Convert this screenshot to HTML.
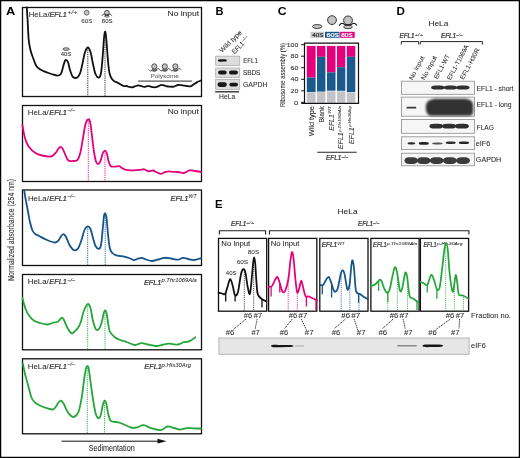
<!DOCTYPE html>
<html><head><meta charset="utf-8"><style>
html,body{margin:0;padding:0;background:#fff;}
svg{display:block;will-change:transform;}
svg text{font-family:"Liberation Sans",sans-serif;}
</style></head><body>
<svg width="520" height="458" viewBox="0 0 520 458">
<defs><filter id="bl" x="-10%" y="-50%" width="120%" height="200%"><feGaussianBlur stdDeviation="0.45"/></filter><filter id="bl2" x="-10%" y="-20%" width="120%" height="140%"><feGaussianBlur stdDeviation="0.8"/></filter></defs>
<rect width="520" height="458" fill="#fff"/>
<rect x="22.5" y="7.5" width="179" height="89.0" fill="none" stroke="#111" stroke-width="1.3"/>
<rect x="22.5" y="105.5" width="179" height="76.0" fill="none" stroke="#111" stroke-width="1.3"/>
<rect x="22.5" y="190.0" width="179" height="75.5" fill="none" stroke="#111" stroke-width="1.3"/>
<rect x="22.5" y="274.5" width="179" height="75.3" fill="none" stroke="#111" stroke-width="1.3"/>
<rect x="22.5" y="358.8" width="179" height="75.0" fill="none" stroke="#111" stroke-width="1.3"/>
<line x1="87.8" y1="49.5" x2="87.8" y2="96.0" stroke="#111" stroke-width="0.9" stroke-dasharray="1.2 1"/>
<line x1="105.0" y1="33.6" x2="105.0" y2="96.0" stroke="#111" stroke-width="0.9" stroke-dasharray="1.2 1"/>
<path d="M26.8,7.5 C26.9,9.6 27.3,14.6 27.6,20.0 C27.9,25.4 28.2,34.9 28.7,40.0 C29.2,45.1 29.9,47.5 30.6,50.5 C31.3,53.5 32.3,55.8 33.1,58.0 C33.9,60.2 34.5,62.1 35.2,63.6 C35.9,65.2 36.2,66.1 37.5,67.3 C38.8,68.5 40.4,69.7 42.7,70.8 C45.0,71.9 49.0,73.2 51.5,74.0 C54.0,74.8 56.1,75.6 57.6,75.6 C59.1,75.6 59.9,75.3 60.8,74.0 C61.7,72.7 62.2,70.0 62.8,68.0 C63.4,66.0 64.0,63.3 64.5,62.0 C65.0,60.7 65.2,60.0 65.8,60.0 C66.4,60.0 67.3,60.3 68.0,62.0 C68.7,63.7 69.2,67.6 70.0,70.0 C70.8,72.4 71.6,75.2 72.5,76.5 C73.4,77.8 74.6,78.0 75.6,78.0 C76.6,78.0 77.5,77.5 78.3,76.5 C79.1,75.5 79.8,74.2 80.5,72.0 C81.2,69.8 81.9,66.2 82.6,63.0 C83.3,59.8 84.0,55.1 84.9,52.5 C85.8,49.9 86.9,47.6 87.8,47.5 C88.7,47.4 89.6,49.2 90.5,52.0 C91.4,54.8 92.2,60.3 93.0,64.0 C93.8,67.7 94.5,71.7 95.5,74.0 C96.5,76.3 97.9,77.8 98.8,77.6 C99.7,77.4 100.3,76.8 101.0,73.0 C101.7,69.2 102.3,60.8 102.8,55.0 C103.3,49.2 103.6,41.9 104.0,38.0 C104.4,34.1 104.7,31.9 105.0,31.6 C105.3,31.3 105.6,32.6 106.0,36.0 C106.4,39.4 106.9,47.0 107.3,52.0 C107.7,57.0 108.1,62.4 108.5,66.0 C108.9,69.6 109.0,71.4 109.6,73.5 C110.1,75.6 110.9,77.4 111.8,78.7 C112.7,80.0 113.8,80.9 114.7,81.6 C115.7,82.2 116.5,82.1 117.5,82.6 C118.5,83.0 119.4,83.7 120.4,84.3 C121.5,84.9 122.8,85.7 123.8,86.0 C124.8,86.3 125.8,85.8 126.7,86.0 C127.6,86.2 128.2,86.7 129.1,86.9 C130.0,87.1 131.1,87.4 132.0,87.3 C132.9,87.2 133.8,86.7 134.8,86.4 C135.8,86.1 137.1,85.3 138.2,85.3 C139.3,85.3 140.6,85.9 141.6,86.2 C142.6,86.5 143.1,86.9 144.0,86.9 C144.9,86.9 146.3,86.3 147.3,86.2 C148.3,86.1 149.2,86.2 150.2,86.4 C151.2,86.6 152.2,87.1 153.1,87.2 C154.0,87.3 154.9,87.4 155.8,87.2 C156.7,87.0 157.7,86.6 158.7,86.2 C159.7,85.8 160.5,84.8 161.6,84.8 C162.7,84.8 164.2,85.6 165.5,85.9 C166.8,86.2 167.9,86.5 169.3,86.6 C170.7,86.7 172.7,86.9 174.1,86.6 C175.5,86.3 176.6,85.2 178.0,85.0 C179.4,84.8 181.4,85.1 182.8,85.3 C184.2,85.5 185.3,85.8 186.6,86.0 C187.9,86.2 189.2,86.7 190.5,86.4 C191.8,86.1 193.2,84.7 194.3,84.0 C195.4,83.3 196.1,82.7 197.2,82.1 C198.3,81.5 200.4,80.8 201.0,80.5" fill="none" stroke="#111" stroke-width="1.8" stroke-linejoin="round" stroke-linecap="round"/>
<line x1="88.3" y1="121.3" x2="88.3" y2="181.0" stroke="#e4007c" stroke-width="0.9" stroke-dasharray="1.2 1"/>
<line x1="105.0" y1="152.7" x2="105.0" y2="181.0" stroke="#e4007c" stroke-width="0.9" stroke-dasharray="1.2 1"/>
<path d="M22.5,125.1 C22.7,126.4 23.2,130.4 23.8,133.0 C24.4,135.6 24.9,138.2 25.8,140.5 C26.7,142.8 27.4,144.9 29.0,147.0 C30.6,149.1 33.2,151.6 35.4,153.0 C37.6,154.4 39.4,154.9 42.0,155.5 C44.6,156.1 48.5,156.9 50.8,156.5 C53.0,156.1 54.2,154.3 55.5,153.0 C56.8,151.7 57.7,149.5 58.5,148.5 C59.3,147.5 59.7,146.8 60.4,146.8 C61.1,146.8 61.7,147.3 62.5,148.5 C63.3,149.7 64.2,152.2 65.0,154.0 C65.8,155.8 66.7,158.3 67.5,159.5 C68.3,160.7 68.9,160.8 70.0,161.1 C71.1,161.3 72.7,161.2 74.0,161.0 C75.3,160.8 76.6,161.2 77.7,159.7 C78.8,158.2 79.6,155.6 80.5,152.0 C81.4,148.4 82.2,142.7 83.0,138.0 C83.8,133.3 84.6,127.1 85.5,124.0 C86.4,120.9 87.5,119.5 88.3,119.3 C89.1,119.1 89.7,120.2 90.3,123.0 C90.9,125.8 91.4,131.2 92.0,136.0 C92.6,140.8 93.3,147.8 94.0,152.0 C94.7,156.2 95.3,159.5 96.0,161.5 C96.7,163.5 97.2,164.3 97.9,164.2 C98.7,164.1 99.7,162.7 100.5,161.0 C101.3,159.3 101.8,155.7 102.5,154.0 C103.2,152.3 104.2,150.7 105.0,150.7 C105.8,150.7 106.4,152.3 107.0,154.0 C107.6,155.7 107.9,159.0 108.5,161.0 C109.1,163.0 109.7,165.3 110.8,166.2 C111.9,167.1 113.6,166.6 115.0,166.6 C116.4,166.6 118.2,165.9 119.4,166.1 C120.6,166.3 120.9,167.4 122.0,168.0 C123.1,168.6 124.2,169.5 126.2,169.9 C128.2,170.3 131.5,170.3 133.8,170.3 C136.1,170.3 138.2,170.0 140.0,169.8 C141.8,169.6 143.0,169.1 144.4,169.3 C145.8,169.6 146.9,171.1 148.3,171.3 C149.8,171.5 151.8,170.4 153.1,170.5 C154.4,170.6 154.7,171.4 156.0,172.0 C157.3,172.6 159.5,173.7 160.8,173.8 C162.1,173.9 162.7,172.9 164.0,172.5 C165.3,172.1 167.0,171.4 168.5,171.3 C170.0,171.2 171.4,171.7 173.0,171.8 C174.6,171.9 176.2,171.8 178.0,172.0 C179.8,172.2 181.9,173.3 183.8,173.0 C185.7,172.7 187.7,170.6 189.6,170.3 C191.5,170.0 193.1,170.8 195.0,171.0 C196.9,171.2 200.2,171.7 201.2,171.8" fill="none" stroke="#e4007c" stroke-width="1.8" stroke-linejoin="round" stroke-linecap="round"/>
<line x1="87.7" y1="228.4" x2="87.7" y2="265.0" stroke="#15548a" stroke-width="0.9" stroke-dasharray="1.2 1"/>
<line x1="105.2" y1="215.5" x2="105.2" y2="265.0" stroke="#15548a" stroke-width="0.9" stroke-dasharray="1.2 1"/>
<path d="M24.2,190.5 C24.5,192.1 25.2,196.8 25.8,200.0 C26.4,203.2 27.0,206.3 27.7,210.0 C28.4,213.7 29.2,218.6 30.0,222.0 C30.8,225.4 31.6,228.5 32.5,230.5 C33.4,232.5 34.4,233.3 35.5,234.2 C36.6,235.1 37.5,235.1 39.2,236.0 C41.0,236.9 43.4,238.4 46.0,239.5 C48.6,240.6 52.5,242.3 54.6,242.5 C56.7,242.7 57.4,241.6 58.5,240.5 C59.6,239.4 60.3,237.1 61.2,236.0 C62.1,234.9 62.9,233.8 63.8,234.1 C64.6,234.3 65.3,235.7 66.3,237.5 C67.2,239.3 68.2,242.9 69.5,245.0 C70.8,247.1 72.4,249.5 73.8,250.1 C75.2,250.7 76.7,250.2 78.0,248.5 C79.3,246.8 80.4,243.1 81.5,240.0 C82.6,236.9 83.5,232.3 84.5,230.0 C85.5,227.7 86.7,226.6 87.7,226.4 C88.7,226.2 89.6,227.1 90.5,229.0 C91.4,230.9 92.2,235.2 93.0,238.0 C93.8,240.8 94.5,244.2 95.5,246.0 C96.5,247.8 97.9,249.1 98.8,248.9 C99.7,248.7 100.3,248.5 101.0,245.0 C101.7,241.5 102.3,232.8 102.8,228.0 C103.3,223.2 103.6,218.4 104.0,216.0 C104.4,213.6 104.8,213.2 105.2,213.5 C105.6,213.8 106.0,214.6 106.5,218.0 C107.0,221.4 107.5,229.0 108.0,234.0 C108.5,239.0 109.1,244.8 109.8,248.0 C110.5,251.2 111.2,251.8 112.3,253.0 C113.4,254.2 114.5,254.7 116.5,255.3 C118.5,255.9 122.1,256.2 124.2,256.6 C126.3,257.1 127.4,257.4 129.0,258.0 C130.6,258.6 132.5,259.9 133.8,260.1 C135.1,260.3 135.7,259.4 137.0,259.0 C138.3,258.6 140.0,257.7 141.5,257.8 C143.0,257.9 144.2,259.0 146.0,259.5 C147.8,260.0 150.1,261.0 152.1,261.0 C154.1,261.0 155.9,260.0 158.0,259.5 C160.1,259.0 162.4,258.0 164.6,257.8 C166.8,257.6 168.8,258.2 171.0,258.5 C173.2,258.8 176.0,259.8 178.0,259.7 C180.0,259.6 181.2,257.9 182.9,257.8 C184.6,257.7 186.2,258.6 188.0,259.0 C189.8,259.4 191.8,260.1 193.5,260.1 C195.2,260.1 196.8,259.3 198.0,259.0 C199.2,258.7 200.5,258.3 201.0,258.2" fill="none" stroke="#15548a" stroke-width="1.8" stroke-linejoin="round" stroke-linecap="round"/>
<line x1="87.7" y1="306.1" x2="87.7" y2="349.5" stroke="#25a63a" stroke-width="0.9" stroke-dasharray="1.2 1"/>
<line x1="105.0" y1="312.4" x2="105.0" y2="349.5" stroke="#25a63a" stroke-width="0.9" stroke-dasharray="1.2 1"/>
<path d="M22.5,297.9 C22.8,298.9 23.4,302.1 24.0,304.0 C24.6,305.9 25.0,307.6 25.8,309.5 C26.6,311.4 27.7,313.7 29.0,315.5 C30.3,317.3 31.7,319.1 33.5,320.3 C35.3,321.6 37.8,322.3 40.0,323.0 C42.2,323.7 45.1,324.4 46.9,324.5 C48.7,324.6 49.9,323.8 51.0,323.5 C52.1,323.2 52.6,322.8 53.7,322.5 C54.8,322.2 56.5,322.5 57.5,322.0 C58.5,321.5 59.3,320.2 60.0,319.5 C60.7,318.8 61.2,317.6 61.9,317.7 C62.6,317.8 63.1,318.4 64.0,320.0 C64.8,321.6 65.8,324.8 67.0,327.0 C68.2,329.2 70.2,332.6 71.5,333.3 C72.8,334.1 73.5,332.3 74.5,331.5 C75.5,330.7 76.7,329.9 77.7,328.3 C78.8,326.7 79.8,324.9 80.8,322.0 C81.8,319.1 82.6,314.0 83.8,311.0 C85.0,308.0 86.6,304.6 87.7,304.1 C88.8,303.6 89.7,305.4 90.5,308.0 C91.3,310.6 91.9,316.4 92.8,320.0 C93.7,323.6 94.9,328.1 96.0,329.5 C97.1,330.9 98.2,329.8 99.2,328.5 C100.2,327.2 101.1,324.4 101.8,322.0 C102.5,319.6 103.0,315.9 103.5,314.0 C104.0,312.1 104.5,310.6 105.0,310.4 C105.5,310.2 106.0,311.1 106.5,313.0 C107.0,314.9 107.5,318.9 108.0,322.0 C108.5,325.1 108.7,329.0 109.8,331.5 C110.9,334.0 113.1,335.7 114.6,337.0 C116.1,338.3 117.4,338.8 119.0,339.5 C120.6,340.2 122.5,340.6 124.2,341.2 C125.9,341.8 127.2,342.4 129.0,343.0 C130.8,343.6 132.7,345.0 134.8,345.0 C136.9,345.0 139.3,343.2 141.5,343.1 C143.7,343.0 145.6,344.0 148.0,344.5 C150.4,345.0 153.7,345.9 156.0,346.0 C158.3,346.1 159.9,345.4 162.0,345.0 C164.1,344.6 166.7,343.8 168.5,343.7 C170.3,343.6 171.4,344.1 173.0,344.2 C174.6,344.3 176.2,344.8 178.0,344.5 C179.8,344.2 181.9,342.8 183.8,342.2 C185.7,341.6 187.7,342.0 189.6,341.2 C191.5,340.4 194.4,337.9 195.4,337.3" fill="none" stroke="#25a63a" stroke-width="1.8" stroke-linejoin="round" stroke-linecap="round"/>
<line x1="87.3" y1="368.0" x2="87.3" y2="433.5" stroke="#25a63a" stroke-width="0.9" stroke-dasharray="1.2 1"/>
<line x1="104.6" y1="402.6" x2="104.6" y2="433.5" stroke="#25a63a" stroke-width="0.9" stroke-dasharray="1.2 1"/>
<path d="M22.9,363.7 C23.2,365.4 24.2,370.6 25.0,374.0 C25.8,377.4 26.6,379.9 27.7,383.8 C28.8,387.7 30.3,394.4 31.5,397.5 C32.7,400.6 33.7,401.2 35.0,402.5 C36.3,403.8 37.4,404.3 39.2,405.2 C41.0,406.1 43.8,407.1 46.0,407.8 C48.2,408.5 51.0,409.7 52.7,409.5 C54.4,409.3 55.0,407.7 56.0,406.5 C57.0,405.3 57.7,403.5 58.5,402.5 C59.3,401.5 60.1,400.4 61.0,400.6 C61.9,400.9 62.8,402.4 63.8,404.0 C64.8,405.6 65.7,408.6 66.8,410.5 C67.9,412.4 69.3,414.4 70.5,415.5 C71.7,416.6 72.9,417.5 74.2,416.9 C75.5,416.3 77.2,415.3 78.5,412.0 C79.8,408.7 80.8,402.7 81.8,397.0 C82.8,391.3 83.6,382.8 84.3,378.0 C85.0,373.2 85.7,370.0 86.2,368.0 C86.7,366.0 86.9,366.0 87.3,366.0 C87.7,366.0 88.1,365.7 88.6,368.0 C89.1,370.3 89.6,375.0 90.3,380.0 C91.0,385.0 91.9,392.3 92.8,398.0 C93.7,403.7 94.8,410.6 95.8,414.0 C96.8,417.4 97.9,418.3 98.8,418.3 C99.7,418.3 100.3,416.2 101.0,414.0 C101.7,411.8 102.2,407.2 102.8,405.0 C103.4,402.8 104.0,400.8 104.6,400.6 C105.2,400.4 105.8,401.9 106.4,404.0 C107.0,406.1 107.3,410.2 108.0,413.0 C108.7,415.8 109.4,419.0 110.4,420.5 C111.4,422.0 112.7,421.5 114.0,421.8 C115.3,422.1 116.8,421.9 118.5,422.3 C120.2,422.8 121.9,423.6 124.0,424.5 C126.1,425.4 128.9,427.0 131.0,427.5 C133.1,428.0 134.6,427.9 136.7,427.5 C138.8,427.1 141.1,425.1 143.5,425.2 C145.9,425.3 148.3,427.3 151.2,428.1 C154.1,428.9 158.1,430.3 160.8,430.0 C163.5,429.7 165.3,426.8 167.5,426.5 C169.7,426.2 171.9,427.5 174.0,428.0 C176.1,428.5 177.9,429.6 180.0,429.6 C182.1,429.6 184.5,428.3 186.7,428.1 C188.9,427.9 190.6,428.2 193.0,428.3 C195.4,428.4 199.7,428.5 201.0,428.5" fill="none" stroke="#25a63a" stroke-width="1.8" stroke-linejoin="round" stroke-linecap="round"/>
<text x="6.00" y="14.80" font-size="11" font-weight="bold" fill="#000" textLength="9.20" lengthAdjust="spacingAndGlyphs">A</text>
<text x="215.50" y="14.80" font-size="11" font-weight="bold" fill="#000" textLength="8.00" lengthAdjust="spacingAndGlyphs">B</text>
<text x="277.80" y="14.80" font-size="11" font-weight="bold" fill="#000" textLength="8.80" lengthAdjust="spacingAndGlyphs">C</text>
<text x="396.40" y="14.80" font-size="11" font-weight="bold" fill="#000" textLength="8.40" lengthAdjust="spacingAndGlyphs">D</text>
<text x="215.00" y="207.60" font-size="11" font-weight="bold" fill="#000" textLength="7.50" lengthAdjust="spacingAndGlyphs">E</text>
<text x="28.74" y="17.10" font-size="7.70" fill="#2a2a2a" stroke="#2a2a2a" stroke-width="0.06" textLength="20.82" lengthAdjust="spacingAndGlyphs">HeLa/</text>
<text x="49.52" y="17.10" font-size="8.00" fill="#2a2a2a" stroke="#2a2a2a" stroke-width="0.21" textLength="17.36" lengthAdjust="spacingAndGlyphs" font-style="italic">EFL1</text>
<text x="67.51" y="14.20" font-size="4.80" fill="#2a2a2a" stroke="#2a2a2a" stroke-width="0.04" textLength="9.68" lengthAdjust="spacingAndGlyphs" font-style="italic">+/+</text>
<text x="27.84" y="114.60" font-size="7.70" fill="#2a2a2a" stroke="#2a2a2a" stroke-width="0.06" textLength="20.92" lengthAdjust="spacingAndGlyphs">HeLa/</text>
<text x="49.22" y="114.60" font-size="8.00" fill="#2a2a2a" stroke="#2a2a2a" stroke-width="0.21" textLength="17.66" lengthAdjust="spacingAndGlyphs" font-style="italic">EFL1</text>
<text x="67.51" y="111.70" font-size="4.80" fill="#2a2a2a" stroke="#2a2a2a" stroke-width="0.04" textLength="7.58" lengthAdjust="spacingAndGlyphs" font-style="italic">&#8211;/&#8211;</text>
<text x="27.94" y="200.70" font-size="7.70" fill="#2a2a2a" stroke="#2a2a2a" stroke-width="0.06" textLength="20.92" lengthAdjust="spacingAndGlyphs">HeLa/</text>
<text x="49.32" y="200.70" font-size="8.00" fill="#2a2a2a" stroke="#2a2a2a" stroke-width="0.21" textLength="17.56" lengthAdjust="spacingAndGlyphs" font-style="italic">EFL1</text>
<text x="67.51" y="197.80" font-size="4.80" fill="#2a2a2a" stroke="#2a2a2a" stroke-width="0.04" textLength="7.58" lengthAdjust="spacingAndGlyphs" font-style="italic">&#8211;/&#8211;</text>
<text x="27.84" y="284.40" font-size="7.70" fill="#2a2a2a" stroke="#2a2a2a" stroke-width="0.06" textLength="20.92" lengthAdjust="spacingAndGlyphs">HeLa/</text>
<text x="49.22" y="284.40" font-size="8.00" fill="#2a2a2a" stroke="#2a2a2a" stroke-width="0.21" textLength="17.66" lengthAdjust="spacingAndGlyphs" font-style="italic">EFL1</text>
<text x="67.51" y="281.50" font-size="4.80" fill="#2a2a2a" stroke="#2a2a2a" stroke-width="0.04" textLength="7.58" lengthAdjust="spacingAndGlyphs" font-style="italic">&#8211;/&#8211;</text>
<text x="27.84" y="369.00" font-size="7.70" fill="#2a2a2a" stroke="#2a2a2a" stroke-width="0.06" textLength="20.92" lengthAdjust="spacingAndGlyphs">HeLa/</text>
<text x="49.22" y="369.00" font-size="8.00" fill="#2a2a2a" stroke="#2a2a2a" stroke-width="0.21" textLength="17.66" lengthAdjust="spacingAndGlyphs" font-style="italic">EFL1</text>
<text x="67.51" y="366.10" font-size="4.80" fill="#2a2a2a" stroke="#2a2a2a" stroke-width="0.04" textLength="7.58" lengthAdjust="spacingAndGlyphs" font-style="italic">&#8211;/&#8211;</text>
<text x="167.57" y="15.90" font-size="7.20" fill="#2a2a2a" stroke="#2a2a2a" stroke-width="0.06" textLength="31.56" lengthAdjust="spacingAndGlyphs">No input</text>
<text x="167.77" y="113.90" font-size="7.20" fill="#2a2a2a" stroke="#2a2a2a" stroke-width="0.06" textLength="31.06" lengthAdjust="spacingAndGlyphs">No input</text>
<text x="170.43" y="201.10" font-size="7.80" fill="#2a2a2a" stroke="#2a2a2a" stroke-width="0.21" textLength="18.14" lengthAdjust="spacingAndGlyphs" font-style="italic">EFL1</text>
<text x="188.61" y="197.60" font-size="4.80" fill="#2a2a2a" stroke="#2a2a2a" stroke-width="0.04" textLength="7.88" lengthAdjust="spacingAndGlyphs" font-style="italic">WT</text>
<text x="143.93" y="284.70" font-size="7.80" fill="#2a2a2a" stroke="#2a2a2a" stroke-width="0.21" textLength="17.34" lengthAdjust="spacingAndGlyphs" font-style="italic">EFL1</text>
<text x="161.41" y="282.00" font-size="4.80" fill="#2a2a2a" stroke="#2a2a2a" stroke-width="0.04" textLength="35.38" lengthAdjust="spacingAndGlyphs" font-style="italic">p.Thr1069Ala</text>
<text x="144.33" y="369.20" font-size="7.80" fill="#2a2a2a" stroke="#2a2a2a" stroke-width="0.21" textLength="17.44" lengthAdjust="spacingAndGlyphs" font-style="italic">EFL1</text>
<text x="161.61" y="366.50" font-size="4.80" fill="#2a2a2a" stroke="#2a2a2a" stroke-width="0.04" textLength="29.38" lengthAdjust="spacingAndGlyphs" font-style="italic">p.His30Arg</text>
<ellipse cx="66.1" cy="49.1" rx="3.2" ry="1.3" fill="#c4c4c4" stroke="#333" stroke-width="0.8"/>
<text x="60.73" y="56.40" font-size="6.10" fill="#333" stroke="#333" stroke-width="0.05" textLength="10.63" lengthAdjust="spacingAndGlyphs">40S</text>
<circle cx="86.7" cy="12.7" r="2.4" fill="#c4c4c4" stroke="#333" stroke-width="0.7"/>
<text x="81.16" y="23.20" font-size="5.60" fill="#333" stroke="#333" stroke-width="0.05" textLength="11.17" lengthAdjust="spacingAndGlyphs">60S</text>
<ellipse cx="106.90" cy="16.25" rx="2.35" ry="0.98" fill="#c4c4c4" stroke="#333" stroke-width="0.6"/><circle cx="106.9" cy="12.7" r="2.4" fill="#c4c4c4" stroke="#333" stroke-width="0.8"/><path d="M102.10,15.65 C102.65,14.45 103.63,13.90 104.50,14.55 C105.37,15.43 108.43,15.43 109.30,14.55 C110.17,13.90 111.15,14.45 111.70,15.54" fill="none" stroke="#111" stroke-width="0.8"/>
<text x="101.86" y="23.20" font-size="5.60" fill="#333" stroke="#333" stroke-width="0.05" textLength="10.77" lengthAdjust="spacingAndGlyphs">80S</text>
<ellipse cx="154.3" cy="70.1" rx="2.6" ry="1.1" fill="#c4c4c4" stroke="#333" stroke-width="0.7"/>
<circle cx="154.3" cy="66.4" r="2.6" fill="#c4c4c4" stroke="#333" stroke-width="0.8"/>
<ellipse cx="164.8" cy="70.1" rx="2.6" ry="1.1" fill="#c4c4c4" stroke="#333" stroke-width="0.7"/>
<circle cx="164.8" cy="66.4" r="2.6" fill="#c4c4c4" stroke="#333" stroke-width="0.8"/>
<ellipse cx="175.4" cy="70.1" rx="2.6" ry="1.1" fill="#c4c4c4" stroke="#333" stroke-width="0.7"/>
<circle cx="175.4" cy="66.4" r="2.6" fill="#c4c4c4" stroke="#333" stroke-width="0.8"/>
<path d="M148.6,69.6 C150,71.5 151.5,71.2 152.5,69.8 C153.5,71.3 155.5,71.3 156.3,69.8 C157.5,68 159,68.2 159.6,69.6 C160.5,71.3 162,71.3 163,69.8 C164,71.3 166,71.3 166.8,69.8 C168,68 169.5,68.2 170.1,69.6 C171,71.3 172.5,71.3 173.5,69.8 C174.5,71.3 176.5,71.3 177.3,69.8 C178.5,68 180,68.5 181.3,69.8" fill="none" stroke="#222" stroke-width="0.75"/>
<line x1="138.2" y1="81.1" x2="191.9" y2="81.1" stroke="#555" stroke-width="1.1"/>
<text x="150.45" y="78.30" font-size="5.80" fill="#666" stroke="#666" stroke-width="0.05" textLength="28.30" lengthAdjust="spacingAndGlyphs">Polysome</text>
<text transform="translate(14.00,280.90) rotate(-90.0)" font-size="8.40" fill="#2a2a2a" stroke="#2a2a2a" stroke-width="0.06" text-anchor="start" textLength="101.90" lengthAdjust="spacingAndGlyphs">Normalized absorbance (254 nm)</text>
<line x1="61.5" y1="441.2" x2="160" y2="441.2" stroke="#111" stroke-width="1"/>
<path d="M157.5,438.8 L166.5,441.2 L157.5,443.6 Z" fill="#111"/>
<text x="88.70" y="450.90" font-size="8.40" fill="#2a2a2a" stroke="#2a2a2a" stroke-width="0.06" textLength="46.01" lengthAdjust="spacingAndGlyphs">Sedimentation</text>
<rect x="215.7" y="56.1" width="24.1" height="9.5" fill="#dcdcdc" stroke="#9a9a9a" stroke-width="0.6"/>
<rect x="215.7" y="68.0" width="24.1" height="9.5" fill="#dcdcdc" stroke="#9a9a9a" stroke-width="0.6"/>
<rect x="215.7" y="79.3" width="24.1" height="10.1" fill="#dcdcdc" stroke="#9a9a9a" stroke-width="0.6"/>
<g filter="url(#bl)">
<ellipse cx="220.6" cy="60.4" rx="2.8" ry="1.25" fill="#111"/><ellipse cx="224.2" cy="60.4" rx="2.7" ry="1.2" fill="#111"/>
<rect x="218.1" y="70.4" width="8.5" height="4.0" rx="2.0" fill="#151515"/>
<rect x="229.0" y="70.4" width="8.9" height="4.0" rx="2.0" fill="#151515"/>
<rect x="217.5" y="82.2" width="9.3" height="4.8" rx="2.4" fill="#151515"/>
<rect x="229.4" y="82.7" width="8.6" height="3.8" rx="1.9" fill="#151515"/>
</g>
<line x1="215.2" y1="91.8" x2="239.1" y2="91.8" stroke="#222" stroke-width="1.3"/>
<text x="219.00" y="99.40" font-size="6.70" fill="#2a2a2a" stroke="#2a2a2a" stroke-width="0.06" textLength="16.20" lengthAdjust="spacingAndGlyphs">HeLa</text>
<text x="243.32" y="63.30" font-size="6.30" fill="#2a2a2a" stroke="#2a2a2a" stroke-width="0.06" textLength="14.46" lengthAdjust="spacingAndGlyphs">EFL1</text>
<text x="243.00" y="74.50" font-size="6.60" fill="#2a2a2a" stroke="#2a2a2a" stroke-width="0.06" textLength="17.39" lengthAdjust="spacingAndGlyphs">SBDS</text>
<text x="243.00" y="86.90" font-size="6.60" fill="#2a2a2a" stroke="#2a2a2a" stroke-width="0.06" textLength="24.49" lengthAdjust="spacingAndGlyphs">GAPDH</text>
<text transform="translate(222.00,52.90) rotate(-44.0)" font-size="6.60" fill="#2a2a2a" stroke="#2a2a2a" stroke-width="0.06" text-anchor="start" textLength="28.30" lengthAdjust="spacingAndGlyphs">Wild type</text>
<text transform="translate(234.60,54.30) rotate(-45.0)" font-size="6.60" fill="#2a2a2a" stroke="#2a2a2a" stroke-width="0.06" text-anchor="start" textLength="14.20" lengthAdjust="spacingAndGlyphs">EFL1</text>
<text transform="translate(243.00,42.30) rotate(-45.0)" font-size="4.40" fill="#2a2a2a" stroke="#2a2a2a" stroke-width="0.04" text-anchor="start" textLength="7.00" lengthAdjust="spacingAndGlyphs">&#8211;/&#8211;</text>
<ellipse cx="317.2" cy="26.5" rx="4.7" ry="2.0" fill="#c4c4c4" stroke="#333" stroke-width="0.9"/>
<circle cx="332.0" cy="20.1" r="4.4" fill="#c4c4c4" stroke="#333" stroke-width="1.0"/>
<ellipse cx="348" cy="26.9" rx="4.3" ry="1.8" fill="#c4c4c4" stroke="#333" stroke-width="0.9"/>
<circle cx="348.0" cy="20.4" r="4.4" fill="#c4c4c4" stroke="#333" stroke-width="1.0"/>
<path d="M339.2,25.8 C340.2,23.6 342,22.6 343.6,23.8 C345.2,25.4 350.8,25.4 352.4,23.8 C354,22.6 355.8,23.6 356.8,25.6" fill="none" stroke="#111" stroke-width="1.1"/>
<rect x="310.4" y="31.8" width="13.6" height="6" fill="#c9c9cc"/>
<rect x="325" y="31.8" width="14.6" height="6" fill="#1a5a8e"/>
<rect x="340.1" y="31.8" width="14.6" height="6" fill="#e4007c"/>
<text x="312.38" y="36.90" font-size="5.40" fill="#333" stroke="#333" stroke-width="0.05" textLength="11.05" lengthAdjust="spacingAndGlyphs" style="stroke-width:0.22px">40S</text>
<text x="326.58" y="36.90" font-size="5.40" fill="#fff" stroke="#fff" stroke-width="0.05" textLength="12.45" lengthAdjust="spacingAndGlyphs" style="stroke-width:0.22px">60S</text>
<text x="341.18" y="36.90" font-size="5.40" fill="#fff" stroke="#fff" stroke-width="0.05" textLength="11.45" lengthAdjust="spacingAndGlyphs" style="stroke-width:0.22px">80S</text>
<rect x="306.8" y="45.9" width="8.8" height="31.6" fill="#e4007c"/>
<rect x="306.8" y="77.5" width="8.8" height="14.7" fill="#1a5a8e"/>
<rect x="306.8" y="92.7" width="8.8" height="10.0" fill="#c4c4c8"/>
<rect x="317.0" y="45.9" width="8.4" height="10.9" fill="#e4007c"/>
<rect x="317.0" y="56.8" width="8.4" height="34.8" fill="#1a5a8e"/>
<rect x="317.0" y="92.1" width="8.4" height="10.6" fill="#c4c4c8"/>
<rect x="327.0" y="45.9" width="8.5" height="26.4" fill="#e4007c"/>
<rect x="327.0" y="72.3" width="8.5" height="18.4" fill="#1a5a8e"/>
<rect x="327.0" y="91.3" width="8.5" height="11.4" fill="#c4c4c8"/>
<rect x="337.0" y="45.9" width="8.3" height="21.3" fill="#e4007c"/>
<rect x="337.0" y="67.2" width="8.3" height="23.6" fill="#1a5a8e"/>
<rect x="337.0" y="91.3" width="8.3" height="11.4" fill="#c4c4c8"/>
<rect x="346.8" y="45.9" width="8.5" height="10.9" fill="#e4007c"/>
<rect x="346.8" y="56.8" width="8.5" height="35.4" fill="#1a5a8e"/>
<rect x="346.8" y="92.7" width="8.5" height="10.0" fill="#c4c4c8"/>
<path d="M304.5,103.3 V43.1 H358.5 V103.3 H301.2" fill="none" stroke="#111" stroke-width="1.2"/>
<line x1="301.1" y1="44.7" x2="304.5" y2="44.7" stroke="#111" stroke-width="1"/>
<text x="286.73" y="46.90" font-size="6.20" fill="#2a2a2a" stroke="#2a2a2a" stroke-width="0.06" textLength="11.64" lengthAdjust="spacingAndGlyphs">100</text>
<line x1="301.1" y1="56.2" x2="304.5" y2="56.2" stroke="#111" stroke-width="1"/>
<text x="290.43" y="58.42" font-size="6.20" fill="#2a2a2a" stroke="#2a2a2a" stroke-width="0.06" textLength="7.94" lengthAdjust="spacingAndGlyphs">80</text>
<line x1="301.1" y1="67.7" x2="304.5" y2="67.7" stroke="#111" stroke-width="1"/>
<text x="290.43" y="69.94" font-size="6.20" fill="#2a2a2a" stroke="#2a2a2a" stroke-width="0.06" textLength="7.94" lengthAdjust="spacingAndGlyphs">60</text>
<line x1="301.1" y1="79.3" x2="304.5" y2="79.3" stroke="#111" stroke-width="1"/>
<text x="290.43" y="81.46" font-size="6.20" fill="#2a2a2a" stroke="#2a2a2a" stroke-width="0.06" textLength="7.94" lengthAdjust="spacingAndGlyphs">40</text>
<line x1="301.1" y1="90.8" x2="304.5" y2="90.8" stroke="#111" stroke-width="1"/>
<text x="290.43" y="92.98" font-size="6.20" fill="#2a2a2a" stroke="#2a2a2a" stroke-width="0.06" textLength="7.94" lengthAdjust="spacingAndGlyphs">20</text>
<line x1="301.1" y1="102.3" x2="304.5" y2="102.3" stroke="#111" stroke-width="1"/>
<text x="294.13" y="104.50" font-size="6.20" fill="#2a2a2a" stroke="#2a2a2a" stroke-width="0.06" textLength="4.24" lengthAdjust="spacingAndGlyphs">0</text>
<text transform="translate(284.60,107.00) rotate(-90.0)" font-size="7.30" fill="#2a2a2a" stroke="#2a2a2a" stroke-width="0.06" text-anchor="start" textLength="64.00" lengthAdjust="spacingAndGlyphs">Ribosome assembly (%)</text>
<text transform="translate(313.80,106.20) rotate(-90.0)" font-size="6.60" fill="#2a2a2a" stroke="#2a2a2a" stroke-width="0.06" text-anchor="end" textLength="30.00" lengthAdjust="spacingAndGlyphs">Wild type</text>
<text transform="translate(323.60,106.20) rotate(-90.0)" font-size="6.60" fill="#2a2a2a" stroke="#2a2a2a" stroke-width="0.06" text-anchor="end" textLength="16.00" lengthAdjust="spacingAndGlyphs">Blank</text>
<text transform="translate(333.50,114.20) rotate(-90.0)" font-size="6.60" fill="#2a2a2a" stroke="#2a2a2a" stroke-width="0.06" text-anchor="end" textLength="16.50" lengthAdjust="spacingAndGlyphs" font-style="italic">EFL1</text>
<text transform="translate(331.10,106.20) rotate(-90.0)" font-size="4.20" fill="#2a2a2a" stroke="#2a2a2a" stroke-width="0.04" text-anchor="end" textLength="7.50" lengthAdjust="spacingAndGlyphs" font-style="italic">WT</text>
<text transform="translate(343.10,132.20) rotate(-90.0)" font-size="6.60" fill="#2a2a2a" stroke="#2a2a2a" stroke-width="0.06" text-anchor="end" textLength="17.00" lengthAdjust="spacingAndGlyphs" font-style="italic">EFL1</text>
<text transform="translate(340.70,106.20) rotate(-90.0)" font-size="4.20" fill="#2a2a2a" stroke="#2a2a2a" stroke-width="0.04" text-anchor="end" textLength="25.50" lengthAdjust="spacingAndGlyphs" font-style="italic">p.Thr1069Ala</text>
<text transform="translate(353.80,127.20) rotate(-90.0)" font-size="6.60" fill="#2a2a2a" stroke="#2a2a2a" stroke-width="0.06" text-anchor="end" textLength="17.00" lengthAdjust="spacingAndGlyphs" font-style="italic">EFL1</text>
<text transform="translate(351.40,106.20) rotate(-90.0)" font-size="4.20" fill="#2a2a2a" stroke="#2a2a2a" stroke-width="0.04" text-anchor="end" textLength="20.50" lengthAdjust="spacingAndGlyphs" font-style="italic">p.His36Arg</text>
<line x1="317.2" y1="152.2" x2="356.7" y2="152.2" stroke="#222" stroke-width="1.1"/>
<text x="326.00" y="160.40" font-size="6.70" fill="#2a2a2a" stroke="#2a2a2a" stroke-width="0.21" textLength="15.20" lengthAdjust="spacingAndGlyphs" font-style="italic">EFL1</text>
<text x="341.55" y="158.30" font-size="4.20" fill="#2a2a2a" stroke="#2a2a2a" stroke-width="0.04" textLength="6.80" lengthAdjust="spacingAndGlyphs" font-style="italic">&#8211;/&#8211;</text>
<text x="428.44" y="26.20" font-size="7.70" fill="#2a2a2a" stroke="#2a2a2a" stroke-width="0.06" textLength="19.92" lengthAdjust="spacingAndGlyphs">HeLa</text>
<text x="399.40" y="38.10" font-size="6.60" fill="#2a2a2a" stroke="#2a2a2a" stroke-width="0.21" textLength="15.19" lengthAdjust="spacingAndGlyphs" font-style="italic">EFL1</text>
<text x="414.54" y="35.60" font-size="4.30" fill="#2a2a2a" stroke="#2a2a2a" stroke-width="0.04" textLength="8.52" lengthAdjust="spacingAndGlyphs" font-style="italic">+/+</text>
<text x="440.90" y="38.10" font-size="6.60" fill="#2a2a2a" stroke="#2a2a2a" stroke-width="0.21" textLength="15.19" lengthAdjust="spacingAndGlyphs" font-style="italic">EFL1</text>
<text x="456.04" y="35.60" font-size="4.30" fill="#2a2a2a" stroke="#2a2a2a" stroke-width="0.04" textLength="6.82" lengthAdjust="spacingAndGlyphs" font-style="italic">&#8211;/&#8211;</text>
<path d="M401.3,44.5 V41.6 H418.7 V44.5 M420.3,44.5 V41.6 H482.4 V44.5" fill="none" stroke="#222" stroke-width="1"/>
<text transform="translate(412.40,80.60) rotate(-62.0)" font-size="6.40" fill="#2a2a2a" stroke="#2a2a2a" stroke-width="0.06" text-anchor="start" textLength="26.00" lengthAdjust="spacingAndGlyphs">No input</text>
<text transform="translate(424.60,80.60) rotate(-62.0)" font-size="6.40" fill="#2a2a2a" stroke="#2a2a2a" stroke-width="0.06" text-anchor="start" textLength="26.50" lengthAdjust="spacingAndGlyphs">No input</text>
<text transform="translate(437.40,79.60) rotate(-62.0)" font-size="6.40" fill="#2a2a2a" stroke="#2a2a2a" stroke-width="0.06" text-anchor="start" textLength="26.80" lengthAdjust="spacingAndGlyphs">EFL1-WT</text>
<text transform="translate(450.60,80.60) rotate(-62.0)" font-size="6.40" fill="#2a2a2a" stroke="#2a2a2a" stroke-width="0.06" text-anchor="start" textLength="38.80" lengthAdjust="spacingAndGlyphs">EFL1-T1069A</text>
<text transform="translate(463.60,80.00) rotate(-62.0)" font-size="6.40" fill="#2a2a2a" stroke="#2a2a2a" stroke-width="0.06" text-anchor="start" textLength="34.50" lengthAdjust="spacingAndGlyphs">EFL1-H30R</text>
<rect x="401.4" y="81.2" width="73" height="13.1" fill="#f6f6f6" stroke="#8c8c8c" stroke-width="0.8"/>
<rect x="401.4" y="97.1" width="73" height="19.1" fill="#f6f6f6" stroke="#8c8c8c" stroke-width="0.8"/>
<rect x="401.4" y="119.5" width="73" height="13.8" fill="#f6f6f6" stroke="#8c8c8c" stroke-width="0.8"/>
<rect x="401.4" y="136.8" width="73" height="12.8" fill="#f6f6f6" stroke="#8c8c8c" stroke-width="0.8"/>
<rect x="401.4" y="153.2" width="73" height="12.6" fill="#f6f6f6" stroke="#8c8c8c" stroke-width="0.8"/>
<g filter="url(#bl)">
<rect x="431.10" y="85.40" width="13.50" height="4.20" rx="4.86" ry="2.10" fill="#2e2e2e"/>
<rect x="443.80" y="85.40" width="13.20" height="4.20" rx="4.75" ry="2.10" fill="#2e2e2e"/>
<rect x="456.10" y="85.40" width="13.40" height="4.20" rx="4.82" ry="2.10" fill="#2e2e2e"/>
<rect x="406.5" y="106.8" width="9.8" height="1.8" rx="0.9" fill="#3a3a3a"/>
<path d="M425.8,107.2 C425.8,101 430,98.8 438,98.8 L463,98.8 C470,98.8 473.2,101 473.2,106 L473.2,111 C473.2,114.5 471.5,115.8 468,115.8 L432,115.8 C428,115.8 425.8,113 425.8,107.2 Z" fill="#333" filter="url(#bl2)"/>
<rect x="429.50" y="123.85" width="13.50" height="4.70" rx="4.86" ry="2.35" fill="#2e2e2e"/>
<rect x="442.20" y="123.85" width="13.60" height="4.70" rx="4.90" ry="2.35" fill="#2e2e2e"/>
<rect x="455.00" y="123.85" width="13.80" height="4.70" rx="4.97" ry="2.35" fill="#2e2e2e"/>
<rect x="407.50" y="142.35" width="7.70" height="2.10" rx="2.77" ry="1.05" fill="#2a2a2a"/>
<rect x="418.80" y="142.00" width="10.00" height="2.80" rx="3.60" ry="1.40" fill="#222"/>
<rect x="432.20" y="142.60" width="10.40" height="1.80" rx="3.74" ry="0.90" fill="#555"/>
<rect x="445.70" y="141.50" width="10.00" height="2.40" rx="3.60" ry="1.20" fill="#2a2a2a"/>
<rect x="458.80" y="141.50" width="10.30" height="2.60" rx="3.71" ry="1.30" fill="#222"/>
<rect x="404.50" y="157.20" width="13.10" height="6.80" rx="4.72" ry="3.40" fill="#3a3a3a"/>
<rect x="416.80" y="157.20" width="13.80" height="6.80" rx="4.97" ry="3.40" fill="#3a3a3a"/>
<rect x="429.80" y="157.20" width="13.80" height="6.80" rx="4.97" ry="3.40" fill="#3a3a3a"/>
<rect x="442.80" y="157.20" width="14.00" height="6.80" rx="5.04" ry="3.40" fill="#3a3a3a"/>
<rect x="456.00" y="157.20" width="14.00" height="6.80" rx="5.04" ry="3.40" fill="#3a3a3a"/>
</g>
<text x="476.62" y="91.30" font-size="6.30" fill="#2a2a2a" stroke="#2a2a2a" stroke-width="0.06" textLength="36.86" lengthAdjust="spacingAndGlyphs">EFL1 - short</text>
<text x="476.62" y="107.20" font-size="6.30" fill="#2a2a2a" stroke="#2a2a2a" stroke-width="0.06" textLength="34.96" lengthAdjust="spacingAndGlyphs">EFL1 - long</text>
<text x="476.62" y="129.80" font-size="6.40" fill="#2a2a2a" stroke="#2a2a2a" stroke-width="0.06" textLength="17.37" lengthAdjust="spacingAndGlyphs">FLAG</text>
<text x="475.82" y="145.90" font-size="6.40" fill="#2a2a2a" stroke="#2a2a2a" stroke-width="0.06" textLength="14.47" lengthAdjust="spacingAndGlyphs">eIF6</text>
<text x="475.82" y="161.70" font-size="6.40" fill="#2a2a2a" stroke="#2a2a2a" stroke-width="0.06" textLength="25.47" lengthAdjust="spacingAndGlyphs">GAPDH</text>
<text x="337.53" y="214.10" font-size="7.90" fill="#2a2a2a" stroke="#2a2a2a" stroke-width="0.06" textLength="20.05" lengthAdjust="spacingAndGlyphs">HeLa</text>
<text x="231.09" y="226.20" font-size="6.80" fill="#2a2a2a" stroke="#2a2a2a" stroke-width="0.21" textLength="15.22" lengthAdjust="spacingAndGlyphs" font-style="italic">EFL1</text>
<text x="246.24" y="223.60" font-size="4.30" fill="#2a2a2a" stroke="#2a2a2a" stroke-width="0.04" textLength="8.12" lengthAdjust="spacingAndGlyphs" font-style="italic">+/+</text>
<text x="358.09" y="226.10" font-size="6.80" fill="#2a2a2a" stroke="#2a2a2a" stroke-width="0.21" textLength="14.82" lengthAdjust="spacingAndGlyphs" font-style="italic">EFL1</text>
<text x="372.84" y="223.60" font-size="4.30" fill="#2a2a2a" stroke="#2a2a2a" stroke-width="0.04" textLength="6.62" lengthAdjust="spacingAndGlyphs" font-style="italic">&#8211;/&#8211;</text>
<path d="M219.4,234.4 V230.8 H265.6 V234.4 M269.4,234.4 V230.8 H468.9 V234.4" fill="none" stroke="#222" stroke-width="1.1"/>
<rect x="218.5" y="238.4" width="48.2" height="72.8" fill="none" stroke="#111" stroke-width="1.3"/>
<rect x="268.6" y="238.4" width="48.2" height="72.8" fill="none" stroke="#111" stroke-width="1.3"/>
<rect x="319.8" y="238.4" width="48.2" height="72.8" fill="none" stroke="#111" stroke-width="1.3"/>
<rect x="370.9" y="238.4" width="48.2" height="72.8" fill="none" stroke="#111" stroke-width="1.3"/>
<rect x="420.4" y="238.4" width="48.2" height="72.8" fill="none" stroke="#111" stroke-width="1.3"/>
<text x="221.32" y="245.70" font-size="6.40" fill="#2a2a2a" stroke="#2a2a2a" stroke-width="0.06" textLength="28.97" lengthAdjust="spacingAndGlyphs">No input</text>
<text x="270.72" y="245.60" font-size="6.40" fill="#2a2a2a" stroke="#2a2a2a" stroke-width="0.06" textLength="28.67" lengthAdjust="spacingAndGlyphs">No input</text>
<text x="321.69" y="247.40" font-size="6.80" fill="#2a2a2a" stroke="#2a2a2a" stroke-width="0.21" textLength="15.52" lengthAdjust="spacingAndGlyphs" font-style="italic">EFL1</text>
<text x="337.24" y="244.90" font-size="4.30" fill="#2a2a2a" stroke="#2a2a2a" stroke-width="0.04" textLength="7.52" lengthAdjust="spacingAndGlyphs" font-style="italic">WT</text>
<text x="373.09" y="247.20" font-size="6.80" fill="#2a2a2a" stroke="#2a2a2a" stroke-width="0.21" textLength="13.62" lengthAdjust="spacingAndGlyphs" font-style="italic">EFL1</text>
<text x="386.66" y="244.90" font-size="4.00" fill="#2a2a2a" stroke="#2a2a2a" stroke-width="0.04" textLength="30.68" lengthAdjust="spacingAndGlyphs" font-style="italic">p.Thr1069Ala</text>
<text x="423.39" y="247.20" font-size="6.80" fill="#2a2a2a" stroke="#2a2a2a" stroke-width="0.21" textLength="13.32" lengthAdjust="spacingAndGlyphs" font-style="italic">EFL1</text>
<text x="437.06" y="244.90" font-size="4.00" fill="#2a2a2a" stroke="#2a2a2a" stroke-width="0.04" textLength="25.48" lengthAdjust="spacingAndGlyphs" font-style="italic">p.His30Arg</text>
<text x="225.86" y="275.00" font-size="5.60" fill="#333" stroke="#333" stroke-width="0.05" textLength="10.77" lengthAdjust="spacingAndGlyphs">40S</text>
<text x="236.66" y="264.40" font-size="5.60" fill="#333" stroke="#333" stroke-width="0.05" textLength="11.47" lengthAdjust="spacingAndGlyphs">60S</text>
<text x="247.66" y="253.60" font-size="5.60" fill="#333" stroke="#333" stroke-width="0.05" textLength="11.57" lengthAdjust="spacingAndGlyphs">80S</text>
<line x1="244.3" y1="271.8" x2="244.3" y2="311" stroke="#111" stroke-width="0.8" stroke-dasharray="1.1 1"/>
<line x1="253.7" y1="260.6" x2="253.7" y2="311" stroke="#111" stroke-width="0.8" stroke-dasharray="1.1 1"/>
<line x1="225.7" y1="292.0" x2="225.7" y2="301.6" stroke="#111" stroke-width="1.3"/>
<line x1="235.1" y1="294.9" x2="235.1" y2="301.6" stroke="#111" stroke-width="1.3"/>
<line x1="262.0" y1="299.1" x2="262.0" y2="307.5" stroke="#111" stroke-width="1.3"/>
<path d="M218.5,292.9 C219.1,293.0 220.9,293.3 222.0,293.5 C223.1,293.7 224.1,295.1 225.0,294.0 C225.9,292.9 226.7,289.5 227.5,287.0 C228.3,284.5 229.3,279.4 230.1,279.1 C230.9,278.8 231.7,282.4 232.5,285.0 C233.3,287.6 234.1,293.8 235.0,295.0 C235.9,296.2 237.0,295.5 238.0,292.0 C239.0,288.5 240.1,277.8 241.0,274.0 C241.9,270.2 242.7,269.4 243.4,269.2 C244.2,269.0 244.8,270.2 245.5,273.0 C246.2,275.8 246.8,282.5 247.5,286.0 C248.2,289.5 249.1,295.0 249.8,294.0 C250.5,293.0 251.1,285.2 251.6,280.0 C252.1,274.8 252.7,266.8 253.1,263.0 C253.5,259.2 253.8,257.3 254.1,257.3 C254.4,257.3 254.8,259.2 255.2,263.0 C255.6,266.8 255.9,275.1 256.3,280.0 C256.7,284.9 256.9,289.7 257.4,292.5 C257.9,295.3 258.3,295.4 259.2,296.6 C260.1,297.8 261.3,298.7 262.5,299.5 C263.7,300.3 265.8,301.2 266.5,301.5" fill="none" stroke="#111" stroke-width="1.75" stroke-linejoin="round" stroke-linecap="round"/>
<line x1="288.2" y1="280.2" x2="288.2" y2="311" stroke="#e4007c" stroke-width="0.8" stroke-dasharray="1.1 1"/>
<line x1="297.3" y1="293.6" x2="297.3" y2="311" stroke="#e4007c" stroke-width="0.8" stroke-dasharray="1.1 1"/>
<line x1="271.1" y1="286.3" x2="271.1" y2="296.4" stroke="#e4007c" stroke-width="1.3"/>
<line x1="279.8" y1="283.0" x2="279.8" y2="292.6" stroke="#e4007c" stroke-width="1.3"/>
<line x1="306.4" y1="296.1" x2="306.4" y2="306.5" stroke="#e4007c" stroke-width="1.3"/>
<line x1="316.0" y1="299.9" x2="316.0" y2="310.0" stroke="#e4007c" stroke-width="1.3"/>
<path d="M268.7,287.0 C269.2,286.8 270.9,287.2 272.0,286.0 C273.1,284.8 274.1,281.5 275.0,280.0 C275.9,278.5 276.4,276.6 277.2,276.9 C277.9,277.2 278.6,279.5 279.5,282.0 C280.4,284.5 281.5,290.4 282.5,291.7 C283.5,293.0 284.5,292.3 285.5,290.0 C286.5,287.7 287.7,283.0 288.5,278.0 C289.3,273.0 289.9,264.3 290.5,260.0 C291.1,255.7 291.5,252.4 292.0,252.1 C292.5,251.8 292.9,253.3 293.5,258.0 C294.1,262.6 294.9,274.2 295.5,280.0 C296.1,285.8 296.6,291.4 297.3,292.6 C298.0,293.8 298.9,289.0 299.5,287.0 C300.1,285.0 300.6,280.9 301.1,280.7 C301.7,280.5 302.1,283.4 302.8,286.0 C303.5,288.6 304.5,294.3 305.5,296.0 C306.5,297.7 307.5,296.1 308.6,296.4 C309.7,296.7 310.6,297.3 312.0,298.0 C313.4,298.7 316.2,300.0 317.0,300.4" fill="none" stroke="#e4007c" stroke-width="1.75" stroke-linejoin="round" stroke-linecap="round"/>
<line x1="341.2" y1="274.3" x2="341.2" y2="311" stroke="#15548a" stroke-width="0.8" stroke-dasharray="1.1 1"/>
<line x1="349.9" y1="281.8" x2="349.9" y2="311" stroke="#15548a" stroke-width="0.8" stroke-dasharray="1.1 1"/>
<line x1="359.0" y1="294.2" x2="359.0" y2="311" stroke="#15548a" stroke-width="0.8" stroke-dasharray="1.1 1"/>
<line x1="322.3" y1="284.9" x2="322.3" y2="294.3" stroke="#15548a" stroke-width="1.3"/>
<line x1="331.6" y1="283.7" x2="331.6" y2="297.5" stroke="#15548a" stroke-width="1.3"/>
<line x1="358.6" y1="292.9" x2="358.6" y2="302.7" stroke="#15548a" stroke-width="1.3"/>
<path d="M319.8,284.7 C320.3,284.8 322.0,285.8 323.0,285.0 C324.0,284.2 325.1,281.4 326.0,280.0 C326.9,278.6 327.8,276.6 328.6,276.9 C329.4,277.2 330.1,279.6 331.0,282.0 C331.9,284.4 333.1,290.0 334.2,291.2 C335.3,292.4 336.4,291.7 337.5,289.0 C338.6,286.3 339.7,278.1 340.5,275.0 C341.3,271.9 341.7,270.6 342.4,270.4 C343.1,270.2 343.7,270.9 344.5,274.0 C345.3,277.1 346.5,287.3 347.3,289.1 C348.1,290.9 348.8,288.9 349.5,285.0 C350.2,281.1 350.8,270.1 351.3,266.0 C351.8,261.9 352.1,260.0 352.5,260.3 C352.9,260.6 353.4,262.9 354.0,268.0 C354.6,273.1 355.0,286.5 356.0,290.8 C357.0,295.1 358.7,293.0 360.0,294.0 C361.3,295.0 362.7,296.1 364.0,297.0 C365.3,297.9 367.3,298.8 368.0,299.2" fill="none" stroke="#15548a" stroke-width="1.75" stroke-linejoin="round" stroke-linecap="round"/>
<line x1="387.8" y1="292.5" x2="387.8" y2="311" stroke="#25a63a" stroke-width="0.8" stroke-dasharray="1.1 1"/>
<line x1="397.4" y1="275.5" x2="397.4" y2="311" stroke="#25a63a" stroke-width="0.8" stroke-dasharray="1.1 1"/>
<line x1="407.5" y1="280.6" x2="407.5" y2="311" stroke="#25a63a" stroke-width="0.8" stroke-dasharray="1.1 1"/>
<line x1="378.6" y1="280.9" x2="378.6" y2="290.8" stroke="#25a63a" stroke-width="1.3"/>
<line x1="387.8" y1="291.5" x2="387.8" y2="302.2" stroke="#25a63a" stroke-width="1.3"/>
<line x1="417.0" y1="301.3" x2="417.0" y2="310.0" stroke="#25a63a" stroke-width="1.3"/>
<path d="M370.9,286.1 C371.6,285.8 373.7,285.4 375.0,284.5 C376.3,283.6 377.7,281.8 378.5,281.0 C379.3,280.2 379.1,279.5 379.6,279.5 C380.1,279.5 380.8,279.6 381.5,281.0 C382.2,282.4 383.1,286.1 384.0,288.0 C384.9,289.9 385.7,292.3 386.6,292.6 C387.5,292.9 388.5,292.8 389.5,290.0 C390.5,287.2 391.6,279.8 392.5,276.0 C393.4,272.2 394.1,268.0 394.8,267.3 C395.6,266.6 396.1,268.1 397.0,272.0 C397.9,275.9 399.1,288.3 400.0,290.8 C400.9,293.3 401.8,289.5 402.5,287.0 C403.2,284.5 403.9,278.4 404.5,276.0 C405.1,273.6 405.3,272.2 405.8,272.5 C406.3,272.8 406.7,274.1 407.3,278.0 C407.9,281.9 408.7,292.7 409.6,296.1 C410.6,299.5 411.6,297.5 413.0,298.5 C414.4,299.5 417.4,301.6 418.3,302.2" fill="none" stroke="#25a63a" stroke-width="1.75" stroke-linejoin="round" stroke-linecap="round"/>
<line x1="445.7" y1="245.2" x2="445.7" y2="311" stroke="#25a63a" stroke-width="0.8" stroke-dasharray="1.1 1"/>
<line x1="454.4" y1="284.4" x2="454.4" y2="311" stroke="#25a63a" stroke-width="0.8" stroke-dasharray="1.1 1"/>
<line x1="463.5" y1="296.8" x2="463.5" y2="311" stroke="#25a63a" stroke-width="0.8" stroke-dasharray="1.1 1"/>
<line x1="427.3" y1="285.0" x2="427.3" y2="292.6" stroke="#25a63a" stroke-width="1.3"/>
<line x1="436.9" y1="289.1" x2="436.9" y2="298.7" stroke="#25a63a" stroke-width="1.3"/>
<path d="M420.4,281.8 C421.0,282.1 422.9,283.0 424.0,283.5 C425.1,284.0 426.3,285.9 427.3,285.0 C428.3,284.1 429.1,279.7 429.8,278.0 C430.5,276.3 431.0,274.5 431.7,274.8 C432.4,275.1 433.1,277.6 434.0,280.0 C434.9,282.4 436.0,287.8 436.9,289.1 C437.8,290.4 438.6,291.2 439.5,288.0 C440.4,284.8 441.2,276.3 442.0,270.0 C442.8,263.7 443.6,254.5 444.3,250.0 C445.0,245.5 445.4,242.9 446.0,242.9 C446.6,242.9 447.2,244.7 447.8,250.0 C448.4,255.3 449.0,268.1 449.8,275.0 C450.6,281.9 451.9,290.2 452.6,291.7 C453.4,293.2 453.8,286.8 454.3,284.0 C454.8,281.2 455.3,275.0 455.8,274.8 C456.3,274.6 456.8,279.8 457.3,283.0 C457.8,286.2 457.9,292.2 458.8,294.3 C459.8,296.4 461.4,294.8 463.0,295.5 C464.6,296.2 467.7,298.2 468.6,298.7" fill="none" stroke="#25a63a" stroke-width="1.75" stroke-linejoin="round" stroke-linecap="round"/>
<text x="243.81" y="317.80" font-size="6.50" fill="#2a2a2a" stroke="#2a2a2a" stroke-width="0.06" textLength="8.28" lengthAdjust="spacingAndGlyphs">#6</text>
<text x="253.81" y="317.80" font-size="6.50" fill="#2a2a2a" stroke="#2a2a2a" stroke-width="0.06" textLength="8.28" lengthAdjust="spacingAndGlyphs">#7</text>
<text x="225.81" y="335.40" font-size="6.50" fill="#2a2a2a" stroke="#2a2a2a" stroke-width="0.06" textLength="8.58" lengthAdjust="spacingAndGlyphs">#6</text>
<text x="251.41" y="335.40" font-size="6.50" fill="#2a2a2a" stroke="#2a2a2a" stroke-width="0.06" textLength="8.38" lengthAdjust="spacingAndGlyphs">#7</text>
<line x1="245.9" y1="319.2" x2="232.8" y2="329.8" stroke="#1a1a1a" stroke-width="1" stroke-dasharray="1.2 0.9"/>
<line x1="257.1" y1="319.2" x2="255.2" y2="328.8" stroke="#1a1a1a" stroke-width="1" stroke-dasharray="1.2 0.9"/>
<text x="288.71" y="317.80" font-size="6.50" fill="#2a2a2a" stroke="#2a2a2a" stroke-width="0.06" textLength="8.38" lengthAdjust="spacingAndGlyphs">#6</text>
<text x="298.61" y="317.80" font-size="6.50" fill="#2a2a2a" stroke="#2a2a2a" stroke-width="0.06" textLength="8.68" lengthAdjust="spacingAndGlyphs">#7</text>
<text x="279.81" y="335.40" font-size="6.50" fill="#2a2a2a" stroke="#2a2a2a" stroke-width="0.06" textLength="8.38" lengthAdjust="spacingAndGlyphs">#6</text>
<text x="304.81" y="335.40" font-size="6.50" fill="#2a2a2a" stroke="#2a2a2a" stroke-width="0.06" textLength="8.68" lengthAdjust="spacingAndGlyphs">#7</text>
<line x1="292.1" y1="319.2" x2="284.5" y2="328.8" stroke="#1a1a1a" stroke-width="1" stroke-dasharray="1.2 0.9"/>
<line x1="301.2" y1="319.2" x2="306.3" y2="329.5" stroke="#1a1a1a" stroke-width="1" stroke-dasharray="1.2 0.9"/>
<text x="341.31" y="317.80" font-size="6.50" fill="#2a2a2a" stroke="#2a2a2a" stroke-width="0.06" textLength="8.68" lengthAdjust="spacingAndGlyphs">#6</text>
<text x="351.31" y="317.80" font-size="6.50" fill="#2a2a2a" stroke="#2a2a2a" stroke-width="0.06" textLength="9.08" lengthAdjust="spacingAndGlyphs">#7</text>
<text x="331.71" y="335.40" font-size="6.50" fill="#2a2a2a" stroke="#2a2a2a" stroke-width="0.06" textLength="8.48" lengthAdjust="spacingAndGlyphs">#6</text>
<text x="356.81" y="335.40" font-size="6.50" fill="#2a2a2a" stroke="#2a2a2a" stroke-width="0.06" textLength="8.78" lengthAdjust="spacingAndGlyphs">#7</text>
<line x1="345.3" y1="319.2" x2="333.9" y2="329.0" stroke="#1a1a1a" stroke-width="1" stroke-dasharray="1.2 0.9"/>
<line x1="354.2" y1="319.2" x2="358.0" y2="330.8" stroke="#1a1a1a" stroke-width="1" stroke-dasharray="1.2 0.9"/>
<text x="389.71" y="317.80" font-size="6.50" fill="#2a2a2a" stroke="#2a2a2a" stroke-width="0.06" textLength="8.58" lengthAdjust="spacingAndGlyphs">#6</text>
<text x="399.41" y="317.80" font-size="6.50" fill="#2a2a2a" stroke="#2a2a2a" stroke-width="0.06" textLength="9.28" lengthAdjust="spacingAndGlyphs">#7</text>
<text x="378.51" y="335.40" font-size="6.50" fill="#2a2a2a" stroke="#2a2a2a" stroke-width="0.06" textLength="8.58" lengthAdjust="spacingAndGlyphs">#6</text>
<text x="403.91" y="335.40" font-size="6.50" fill="#2a2a2a" stroke="#2a2a2a" stroke-width="0.06" textLength="8.58" lengthAdjust="spacingAndGlyphs">#7</text>
<line x1="393.0" y1="319.2" x2="382.0" y2="329.0" stroke="#1a1a1a" stroke-width="1" stroke-dasharray="1.2 0.9"/>
<line x1="403.2" y1="319.2" x2="405.3" y2="329.0" stroke="#1a1a1a" stroke-width="1" stroke-dasharray="1.2 0.9"/>
<text x="445.81" y="317.80" font-size="6.50" fill="#2a2a2a" stroke="#2a2a2a" stroke-width="0.06" textLength="8.58" lengthAdjust="spacingAndGlyphs">#6</text>
<text x="455.71" y="317.80" font-size="6.50" fill="#2a2a2a" stroke="#2a2a2a" stroke-width="0.06" textLength="8.48" lengthAdjust="spacingAndGlyphs">#7</text>
<text x="428.31" y="335.40" font-size="6.50" fill="#2a2a2a" stroke="#2a2a2a" stroke-width="0.06" textLength="8.38" lengthAdjust="spacingAndGlyphs">#6</text>
<text x="451.11" y="335.40" font-size="6.50" fill="#2a2a2a" stroke="#2a2a2a" stroke-width="0.06" textLength="8.38" lengthAdjust="spacingAndGlyphs">#7</text>
<line x1="450.2" y1="319.2" x2="435.8" y2="329.6" stroke="#1a1a1a" stroke-width="1" stroke-dasharray="1.2 0.9"/>
<line x1="459.5" y1="319.2" x2="459.1" y2="328.4" stroke="#1a1a1a" stroke-width="1" stroke-dasharray="1.2 0.9"/>
<text x="471.10" y="318.20" font-size="6.60" fill="#2a2a2a" stroke="#2a2a2a" stroke-width="0.06" textLength="39.89" lengthAdjust="spacingAndGlyphs">Fraction no.</text>
<text x="471.10" y="348.30" font-size="6.60" fill="#2a2a2a" stroke="#2a2a2a" stroke-width="0.06" textLength="14.69" lengthAdjust="spacingAndGlyphs">eIF6</text>
<rect x="218.9" y="338" width="250.2" height="16.3" fill="#e6e6e6" stroke="#a5a5a5" stroke-width="0.8"/>
<g filter="url(#bl)">
<path d="M271,346.1 C271,344.8 274,344.8 278,344.9 L288,345.1 C292,345.1 293.4,345.4 293.4,346 C293.4,346.6 292,346.9 288,347 L278,347.3 C274,347.4 271,347.4 271,346.1 Z" fill="#151515"/>
<rect x="295.0" y="345.4" width="9.0" height="1.2" rx="0.6" fill="#aaa"/>
<rect x="397.0" y="344.9" width="19.8" height="1.5" rx="0.8" fill="#8a8a8a"/>
<path d="M422.4,345.8 C422.4,344.4 426,344.4 430,344.5 L438,344.6 C442,344.7 443,345.1 443,345.8 C443,346.5 442,346.9 438,347 L430,347.1 C426,347.2 422.4,347.2 422.4,345.8 Z" fill="#151515"/>
</g>
<rect x="0.6" y="0.6" width="518.8" height="456.8" fill="none" stroke="#000" stroke-width="1.3"/>
</svg>
</body></html>
